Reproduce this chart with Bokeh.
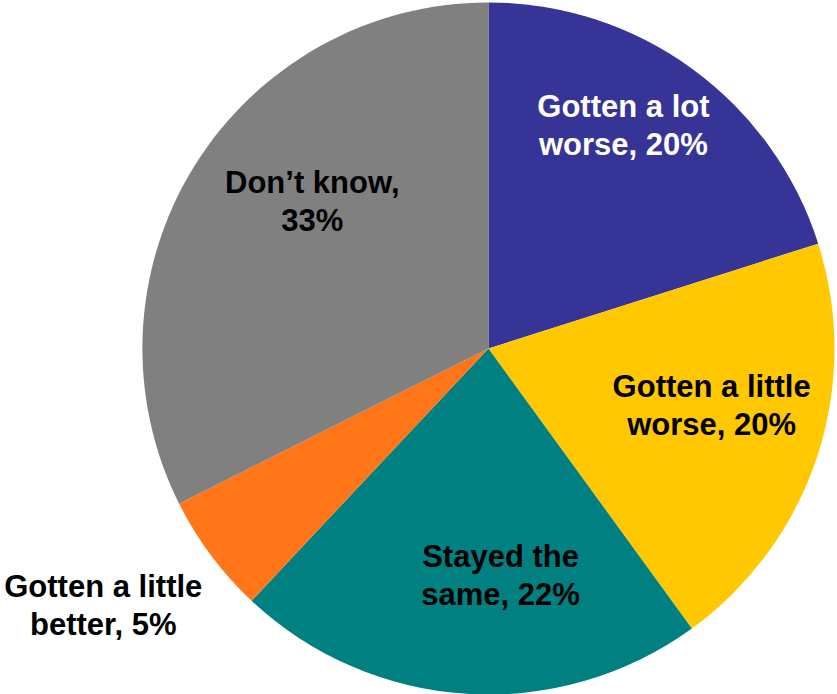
import math
from bokeh.plotting import figure
from bokeh.models import ColumnDataSource, Range1d
from bokeh.core.properties import value
from bokeh.embed import file_html
from bokeh.resources import INLINE

# Data (clockwise from 12 o'clock)
categories = ["Gotten a lot worse", "Gotten a little worse", "Stayed the same",
              "Gotten a little better", "Don\u2019t know"]
shares = [20.1, 19.9, 22.0, 5.6, 32.4]
labels = ["Gotten a lot\nworse, 20%", "Gotten a little\nworse, 20%", "Stayed the\nsame, 22%",
          "Gotten a little\nbetter, 5%", "Don\u2019t know,\n33%"]
colors = ["#373497", "#FFC800", "#008080", "#FF7518", "#808080"]
text_colors = ["white", "black", "black", "black", "black"]
# label anchor offsets, in pie-radius units
label_x = [0.390, 0.645, 0.035, -1.113, -0.509]
label_y = [0.645, -0.165, -0.656, -0.743, 0.425]

total = sum(shares)
starts, ends = [], []
cum = 0.0
for s in shares:
    starts.append(math.pi / 2 - 2 * math.pi * cum / total)
    cum += s
    ends.append(math.pi / 2 - 2 * math.pi * cum / total)

src = ColumnDataSource(dict(cat=categories, start=starts, end=ends, color=colors))
lsrc = ColumnDataSource(dict(x=label_x, y=label_y, text=labels, tc=text_colors))

W, H = 837, 694
p = figure(width=W, height=H, output_backend="svg", toolbar_location=None,
           x_range=Range1d(-1.410, 1.0087), y_range=Range1d(-1.0, 1.0058),
           min_border=0, outline_line_color=None)
p.axis.visible = False
p.grid.visible = False

p.wedge(x=0, y=0, radius=1.0, start_angle="start", end_angle="end",
        direction="clock", fill_color="color", line_color=None, source=src)

p.text(x="x", y="y", text="text", source=lsrc, text_color="tc",
       text_font=value("Liberation Sans"), text_font_style="bold",
       text_font_size="31px", text_align="center", text_baseline="middle",
       text_line_height=1.1)

open("out.html", "w").write(file_html(p, INLINE))
